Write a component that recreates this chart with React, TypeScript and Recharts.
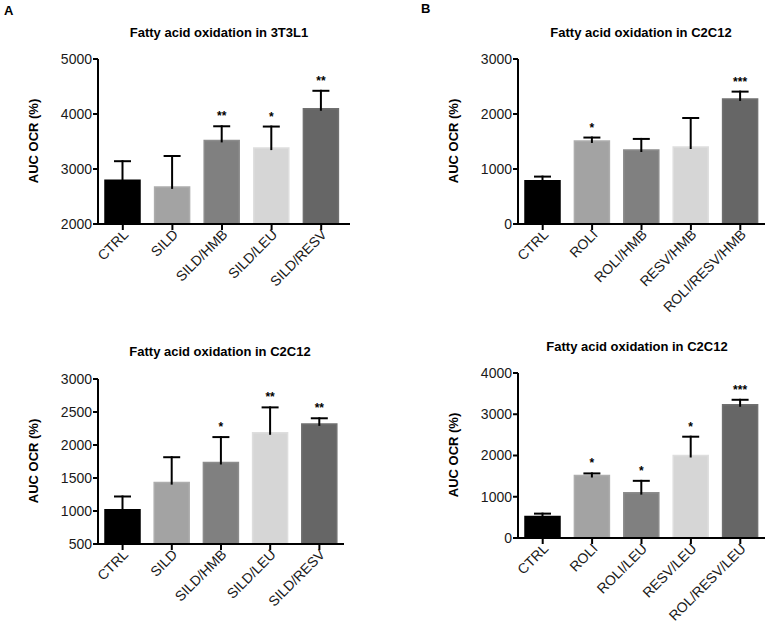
import React from 'react';
import { BarChart, Bar, XAxis, YAxis, Cell, LabelList } from 'recharts';

const fontFamily = '"Liberation Sans", Arial, Helvetica, sans-serif';
const shades = ['#000000', '#a3a3a3', '#808080', '#d6d6d6', '#666666'];
const edges = ['#000000', '#adadad', '#8c8c8c', '#dedede', '#707070'];

// A, top: 3T3L1
const groupsA1 = ['CTRL', 'SILD', 'SILD/HMB', 'SILD/LEU', 'SILD/RESV'];
const meanA1 = [2795, 2675, 3520, 3380, 4095];
const semA1 = [365, 580, 275, 410, 345];
const starsA1 = ['', '', '**', '*', '**'];
const ticksA1 = [2000, 3000, 4000, 5000];

// A, bottom: C2C12
const groupsA2 = ['CTRL', 'SILD', 'SILD/HMB', 'SILD/LEU', 'SILD/RESV'];
const meanA2 = [1020, 1430, 1735, 2185, 2320];
const semA2 = [215, 400, 400, 400, 100];
const starsA2 = ['', '', '*', '**', '**'];
const ticksA2 = [500, 1000, 1500, 2000, 2500, 3000];

// B, top: C2C12 HMB
const groupsB1 = ['CTRL', 'ROLI', 'ROLI/HMB', 'RESV/HMB', 'ROLI/RESV/HMB'];
const meanB1 = [785, 1510, 1345, 1400, 2275];
const semB1 = [95, 80, 220, 545, 150];
const starsB1 = ['', '*', '', '', '***'];
const ticksB1 = [0, 1000, 2000, 3000];

// B, bottom: C2C12 LEU
const groupsB2 = ['CTRL', 'ROLI', 'ROLI/LEU', 'RESV/LEU', 'ROL/RESV/LEU'];
const meanB2 = [520, 1515, 1100, 2000, 3230];
const semB2 = [95, 75, 310, 480, 145];
const starsB2 = ['', '*', '*', '*', '***'];
const ticksB2 = [0, 1000, 2000, 3000, 4000];

function ErrorWhisker(props: any) {
  const { x, y, width, height } = props;
  if (x == null || y == null || height == null) return null;
  const cx = x + width / 2;
  return (
    <g>
      <line x1={cx} x2={cx} y1={y} y2={y + height + 2} stroke="#000" strokeWidth={2} />
      <line x1={cx - 8.5} x2={cx + 8.5} y1={y + 1} y2={y + 1} stroke="#000" strokeWidth={2} />
    </g>
  );
}

function AngledTick(props: any) {
  const { x, y, payload } = props;
  return (
    <g transform={`translate(${x + 3},${y})`}>
      <text
        x={0}
        y={0}
        dy="0.35em"
        textAnchor="end"
        transform="rotate(-45)"
        fontSize={14}
        fill="#1a1a1a"
        fontFamily={fontFamily}
      >
        {payload.value}
      </text>
    </g>
  );
}

interface PanelProps {
  groups: string[];
  means: number[];
  sems: number[];
  stars: string[];
  ticks: number[];
  plot: { l: number; r: number; t: number; b: number; padR: number };
}

function Panel({ groups, means, sems, stars, ticks, plot }: PanelProps) {
  const data = groups.map((name, i) => ({ name, mean: means[i], sem: sems[i], star: stars[i] }));
  const left = plot.l - 70;
  const top = plot.t - 30;
  const width = plot.r - left + 4;
  const height = plot.b - top + 90;

  return (
    <div style={{ position: 'absolute', left, top, width, height }}>
      <BarChart
        width={width}
        height={height}
        data={data}
        margin={{ top: 30, right: 4, bottom: 6, left: 10 }}
        barSize={35}
      >
        <XAxis
          dataKey="name"
          height={84}
          interval={0}
          tickSize={6}
          tickMargin={2}
          padding={{ left: 0, right: plot.padR }}
          axisLine={{ stroke: '#000', strokeWidth: 2 }}
          tickLine={{ stroke: '#000', strokeWidth: 2 }}
          tick={<AngledTick />}
        />
        <YAxis
          width={60}
          domain={[ticks[0], ticks[ticks.length - 1]]}
          ticks={ticks}
          allowDataOverflow
          tickSize={5}
          tickMargin={1}
          axisLine={{ stroke: '#000', strokeWidth: 2 }}
          tickLine={{ stroke: '#000', strokeWidth: 2 }}
          tick={{ fontSize: 14, fill: '#1a1a1a', fontFamily }}
        />
        <Bar dataKey="mean" stackId="s" isAnimationActive={false}>
          {data.map((_, i) => (
            <Cell key={i} fill={shades[i]} stroke={edges[i]} strokeWidth={1.5} />
          ))}
        </Bar>
        <Bar dataKey="sem" stackId="s" shape={<ErrorWhisker />} isAnimationActive={false}>
          <LabelList
            dataKey="star"
            position="top"
            offset={5}
            fontSize={12}
            fontWeight="bold"
            fill="#000"
            fontFamily={fontFamily}
          />
        </Bar>
      </BarChart>
    </div>
  );
}

function CenterText({ x, y, text, size, bold = true }: { x: number; y: number; text: string; size: number; bold?: boolean }) {
  return (
    <div
      style={{
        position: 'absolute',
        left: x - 150,
        top: y - 8,
        width: 300,
        lineHeight: '16px',
        textAlign: 'center',
        fontSize: size,
        fontWeight: bold ? 'bold' : 'normal',
        fontFamily,
        color: '#000',
        whiteSpace: 'nowrap',
      }}
    >
      {text}
    </div>
  );
}

function YLabel({ x, y }: { x: number; y: number }) {
  return (
    <div
      style={{
        position: 'absolute',
        left: x,
        top: y,
        transform: 'translate(-50%, -50%) rotate(-90deg)',
        fontSize: 13,
        fontWeight: 'bold',
        fontFamily,
        color: '#000',
        whiteSpace: 'nowrap',
        lineHeight: '16px',
      }}
    >
      AUC OCR (%)
    </div>
  );
}

export default function App() {
  return (
    <div style={{ position: 'absolute', left: 0, top: 0, width: 769, height: 628, background: '#fff', overflow: 'hidden' }}>
      <div style={{ position: 'absolute', left: 4, top: 3, fontSize: 13, fontWeight: 'bold', fontFamily }}>A</div>
      <div style={{ position: 'absolute', left: 421, top: 1, fontSize: 13, fontWeight: 'bold', fontFamily }}>B</div>

      <CenterText x={219} y={33} text="Fatty acid oxidation in 3T3L1" size={13} />
      <CenterText x={641} y={33} text="Fatty acid oxidation in C2C12" size={13} />
      <CenterText x={220} y={352} text="Fatty acid oxidation in C2C12" size={13} />
      <CenterText x={637} y={347} text="Fatty acid oxidation in C2C12" size={13} />

      <YLabel x={34} y={141} />
      <YLabel x={454} y={141} />
      <YLabel x={34} y={461} />
      <YLabel x={454} y={455} />

      <Panel groups={groupsA1} means={meanA1} sems={semA1} stars={starsA1} ticks={ticksA1}
        plot={{ l: 98, r: 350, t: 59, b: 224, padR: 4 }} />
      <Panel groups={groupsB1} means={meanB1} sems={semB1} stars={starsB1} ticks={ticksB1}
        plot={{ l: 518, r: 765, t: 59, b: 224, padR: 0 }} />
      <Panel groups={groupsA2} means={meanA2} sems={semA2} stars={starsA2} ticks={ticksA2}
        plot={{ l: 98, r: 344, t: 379, b: 544, padR: 0 }} />
      <Panel groups={groupsB2} means={meanB2} sems={semB2} stars={starsB2} ticks={ticksB2}
        plot={{ l: 518, r: 765, t: 373, b: 538, padR: 0 }} />
    </div>
  );
}
